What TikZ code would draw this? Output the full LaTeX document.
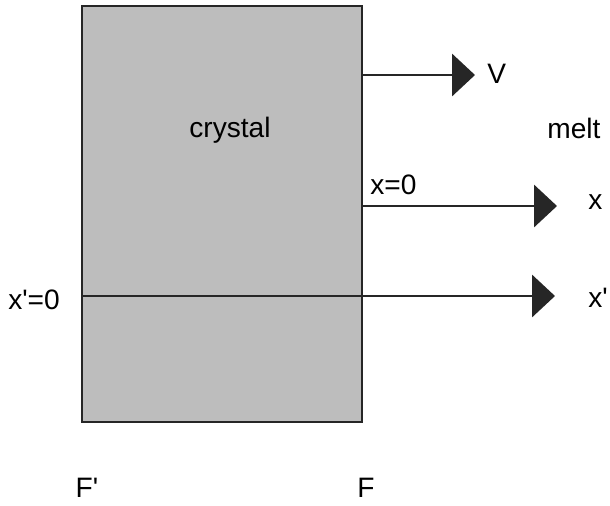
\documentclass[tikz,border=0pt]{standalone}
\usepackage{fontspec}
\setmainfont{Liberation Sans}
\usetikzlibrary{arrows.meta,positioning}
\newcommand{\pr}{\textquotesingle}

\begin{document}
\begin{tikzpicture}[
  x=0.02cm, y=-0.02cm,
  lbl/.style={font=\fontsize{16}{19}\selectfont, inner sep=0pt},
  crystalbox/.style={draw=black!85, line width=1.6pt, fill=black!26},
  arrow/.style={-{Triangle[length=13pt, width=24pt]}, line width=1.1pt, draw=black!85}
]
  \useasboundingbox (0,0) rectangle (610,505);

  % crystal block
  \coordinate (nw) at (82,6);
  \coordinate (se) at (362,422);
  \draw[crystalbox] (nw) rectangle (se);
  \node[lbl] (crystal) at (230,130) {crystal};

  % growth velocity
  \coordinate (vstart) at (362,75);
  \coordinate (vend) at (475,75);
  \draw[arrow] (vstart) -- (vend);
  \node[lbl, anchor=west] (vlabel) at (487,74) {V};

  \node[lbl, anchor=west] (melt) at (547,128) {melt};

  % moving frame
  \coordinate (xstart) at (362,206);
  \coordinate (xend) at (557,206);
  \draw[arrow] (xstart) -- (xend);
  \node[lbl, anchor=west] (xzero) at (370,185) {x=0};
  \node[lbl, anchor=west] (xaxis) at (588,202) {x};

  % fixed frame
  \coordinate (ustart) at (82,296);
  \coordinate (uend) at (555,296);
  \draw[arrow] (ustart) -- (uend);
  \node[lbl] (uzero) at (34,300) {x\pr=0};
  \node[lbl, anchor=west] (uaxis) at (588,298) {x\pr};

  \node[lbl] (fprime) at (87,488) {F\pr};
  \node[lbl] (fplain) at (366,488) {F};
\end{tikzpicture}
\end{document}
